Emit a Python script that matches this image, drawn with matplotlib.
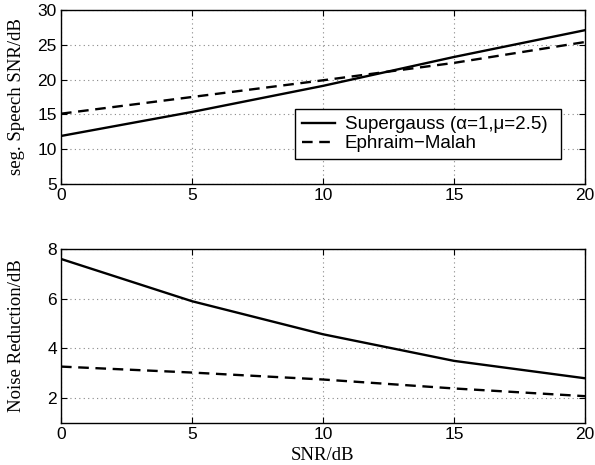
import matplotlib
matplotlib.use("Agg")
import matplotlib.pyplot as plt

snr = [0, 5, 10, 15, 20]
seg_supergauss = [11.9, 15.35, 19.1, 23.25, 27.1]
seg_ephraim = [15.1, 17.5, 19.9, 22.4, 25.4]
nr_supergauss = [7.6, 5.9, 4.57, 3.5, 2.8]
nr_ephraim = [3.27, 3.03, 2.75, 2.39, 2.08]

label_sg = "Supergauss (\u03b1=1,\u03bc=2.5)"
label_em = "Ephraim\u2212Malah"

sans = ["Liberation Sans", "DejaVu Sans"]
serif = ["Liberation Serif", "DejaVu Serif"]

fig = plt.figure(figsize=(5.95, 4.65), dpi=100)
ax1 = fig.add_axes([0.1025, 0.6043, 0.8807, 0.3742])
ax2 = fig.add_axes([0.1025, 0.0903, 0.8807, 0.3742])

def style(ax):
    ax.grid(True, linestyle=(0, (1, 3)), color="#888888", linewidth=0.8)
    ax.tick_params(direction="in", top=True, right=True, labelsize=12.5, length=4, width=0.8, pad=3)
    for lab in ax.get_xticklabels() + ax.get_yticklabels():
        lab.set_family(sans)
    for s in ax.spines.values():
        s.set_linewidth(1.0)
    ax.set_xlim(0, 20)
    ax.set_xticks([0, 5, 10, 15, 20])

ax1.plot(snr, seg_supergauss, color="black", lw=1.7, label=label_sg)
ax1.plot(snr, seg_ephraim, color="black", lw=1.7, ls=(0, (4.5, 2.8)), label=label_em)
ax1.set_ylim(5, 30)
ax1.set_yticks([5, 10, 15, 20, 25, 30])
style(ax1)
ax1.set_ylabel("seg. Speech SNR/dB", family=serif, fontsize=13.5)
ax1.yaxis.set_label_coords(-0.069, 0.5)
leg = ax1.legend(loc="lower left", bbox_to_anchor=(0.4466, 0.1437, 0.508, 0.287),
                 mode="expand", frameon=True, fancybox=False, edgecolor="black",
                 framealpha=1, prop={"family": sans, "size": 13.5}, borderaxespad=0,
                 handlelength=1.75, handletextpad=0.55, borderpad=0.36, labelspacing=0.1)
leg.get_frame().set_linewidth(1.0)

ax2.plot(snr, nr_supergauss, color="black", lw=1.7)
ax2.plot(snr, nr_ephraim, color="black", lw=1.7, ls=(0, (4.5, 2.8)))
ax2.set_ylim(1, 8)
ax2.set_yticks([2, 4, 6, 8])
style(ax2)
ax2.set_ylabel("Noise Reduction/dB", family=serif, fontsize=13.5)
ax2.yaxis.set_label_coords(-0.069, 0.5)
ax2.set_xlabel("SNR/dB", family=serif, fontsize=13.5)
ax2.xaxis.set_label_coords(0.5, -0.14)

fig.savefig("out.png", dpi=100)
